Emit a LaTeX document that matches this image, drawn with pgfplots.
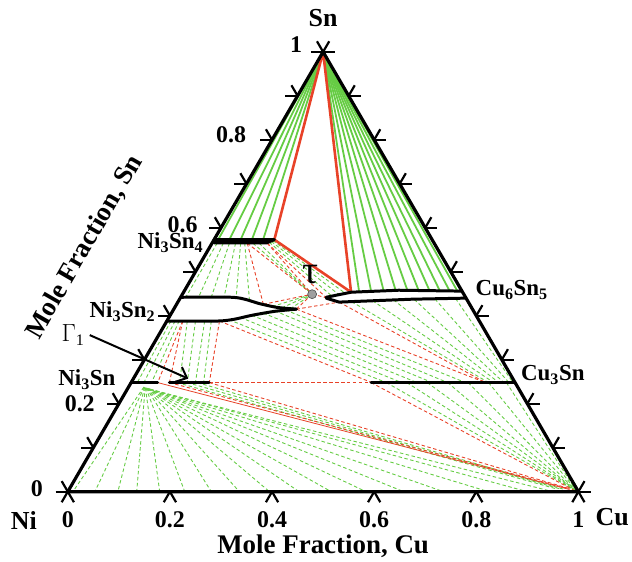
\documentclass[border=0pt]{standalone}
\usepackage{fontspec}
\setmainfont{Liberation Serif}
\usepackage{pgfplots}
\pgfplotsset{compat=1.18}
\usepackage{pgfplotstable}
\usetikzlibrary{arrows.meta}

\definecolor{tgreen}{RGB}{102,204,68}
\definecolor{tred}{RGB}{232,66,40}

% horizontal position of a composition (Cu, Sn) in the equilateral triangle
\newcommand\tx{\thisrow{cu}+0.5*\thisrow{sn}}
\newcommand\qx{\thisrow{ca}+0.5*\thisrow{sa}}

\pgfplotsset{
  tie/.style={quiver={u=\thisrow{cb}-\thisrow{ca}+0.5*(\thisrow{sb}-\thisrow{sa}),
                      v=\thisrow{sb}-\thisrow{sa}}},
  gdash/.style={tgreen, line width=0.9pt, dash pattern=on 3.5pt off 2.5pt},
  rdash/.style={tred, line width=0.9pt, dash pattern=on 3.5pt off 2.5pt},
  phase/.style={black, line width=3pt, line join=round, line cap=round},
}

% ---- tie lines: (Cu, Sn) of both ends ----
\pgfplotstableread{
ca sa cb sb
0 1 0.008 0.573
0 1 0.030 0.573
0 1 0.052 0.573
0 1 0.074 0.573
0 1 0.096 0.573
0 1 0.343 0.455
0 1 0.366 0.456
0 1 0.390 0.457
0 1 0.413 0.458
0 1 0.436 0.458
0 1 0.458 0.458
0 1 0.480 0.457
0 1 0.500 0.457
0 1 0.520 0.456
0 1 0.535 0.456
}\liqtie

\pgfplotstableread{
ca sa cb sb
0.069 0.565 0.254 0.449
0.069 0.565 0.170 0.426
0.170 0.426 0.254 0.449
0.108 0.565 0.254 0.449
0.108 0.565 0.286 0.441
0.254 0.449 0.286 0.441
0.240 0.415 0.254 0.449
0.240 0.415 0.316 0.431
0.240 0.415 0.694 0.248
0.316 0.431 0.694 0.248
0.103 0.388 0.470 0.2485
0.103 0.388 0.153 0.2485
0.153 0.2485 0.470 0.2485
0.031 0.388 0.052 0.248
0.031 0.388 0.075 0.248
0.075 0.248 0.980 0.006
0.153 0.248 0.982 0.006
0.470 0.248 0.988 0.004
}\redtie

\pgfplotstableread{
ca sa cb sb
0.010 0.565 0.010 0.442
0.022 0.565 0.035 0.442
0.034 0.565 0.060 0.442
0.046 0.565 0.085 0.442
0.056 0.565 0.110 0.439
0.064 0.565 0.140 0.432
0.080 0.565 0.254 0.449
0.092 0.565 0.254 0.449
0.111 0.567 0.296 0.444
0.114 0.569 0.307 0.448
0.116 0.571 0.318 0.451
0.190 0.421 0.254 0.449
0.210 0.418 0.254 0.449
0.228 0.416 0.254 0.449
0.008 0.388 0.012 0.248
0.016 0.388 0.025 0.248
0.024 0.388 0.040 0.248
0.040 0.388 0.095 0.248
0.056 0.388 0.110 0.248
0.074 0.388 0.126 0.248
0.087 0.388 0.142 0.248
0.120 0.391 0.500 0.248
0.140 0.396 0.530 0.248
0.160 0.401 0.560 0.248
0.180 0.406 0.590 0.248
0.200 0.411 0.620 0.248
0.220 0.413 0.655 0.248
0.340 0.432 0.700 0.248
0.380 0.434 0.710 0.248
0.420 0.436 0.720 0.248
0.460 0.437 0.730 0.248
0.500 0.438 0.740 0.248
0.540 0.439 0.748 0.248
0.090 0.248 0.955 0.006
0.110 0.248 0.962 0.006
0.130 0.248 0.970 0.005
0.500 0.248 0.990 0.004
0.540 0.248 0.990 0.004
0.580 0.248 0.991 0.004
0.620 0.248 0.992 0.003
0.660 0.248 0.993 0.003
0.700 0.248 0.994 0.003
0.735 0.248 0.995 0.002
0.030 0.238 0.010 0
0.031 0.238 0.053 0
0.032 0.237 0.098 0
0.033 0.237 0.135 0
0.034 0.236 0.180 0
0.035 0.236 0.229 0
0.036 0.236 0.281 0
0.037 0.235 0.336 0
0.038 0.235 0.395 0
0.039 0.235 0.453 0
0.040 0.234 0.516 0
0.041 0.234 0.584 0
0.042 0.234 0.658 0
0.043 0.233 0.736 0
0.044 0.233 0.824 0
0.045 0.233 0.900 0
0.046 0.232 0.950 0
}\greentie

% ---- tick marks on the three edges ----
\pgfplotstableread{
ca sa cb sb
0 0.1 -0.024 0.1
0 0.1 -0.024 0.124
0 0.2 -0.024 0.2
0 0.2 -0.024 0.224
0 0.3 -0.024 0.3
0 0.3 -0.024 0.324
0 0.4 -0.024 0.4
0 0.4 -0.024 0.424
0 0.5 -0.024 0.5
0 0.5 -0.024 0.524
0 0.6 -0.024 0.6
0 0.6 -0.024 0.624
0 0.7 -0.024 0.7
0 0.7 -0.024 0.724
0 0.8 -0.024 0.8
0 0.8 -0.024 0.824
0 0.9 -0.024 0.9
0 0.9 -0.024 0.924
0.9 0.1 0.924 0.1
0.9 0.1 0.9 0.124
0.8 0.2 0.824 0.2
0.8 0.2 0.8 0.224
0.7 0.3 0.724 0.3
0.7 0.3 0.7 0.324
0.6 0.4 0.624 0.4
0.6 0.4 0.6 0.424
0.5 0.5 0.524 0.5
0.5 0.5 0.5 0.524
0.4 0.6 0.424 0.6
0.4 0.6 0.4 0.624
0.3 0.7 0.324 0.7
0.3 0.7 0.3 0.724
0.2 0.8 0.224 0.8
0.2 0.8 0.2 0.824
0.1 0.9 0.124 0.9
0.1 0.9 0.1 0.924
0.2 0 0.2 -0.024
0.2 0 0.224 -0.024
0.4 0 0.4 -0.024
0.4 0 0.424 -0.024
0.6 0 0.6 -0.024
0.6 0 0.624 -0.024
0.8 0 0.8 -0.024
0.8 0 0.824 -0.024
-0.024 0 0.024 0
0 -0.024 0 0.024
-0.024 0.024 0.024 -0.024
-0.024 1 0.024 1
0 0.976 0 1.024
-0.024 1.024 0.024 0.976
0.976 0 1.024 0
1 -0.024 1 0.024
0.976 0.024 1.024 -0.024
}\ticktab

\begin{document}
\begin{tikzpicture}
\begin{axis}[
  width=632pt, height=563pt, scale only axis,
  xmin=-0.1328, xmax=1.1016, ymin=-0.1587, ymax=1.1179,
  hide axis, clip=false,
]
\addplot[draw=none] coordinates {(-0.1328,-0.1587) (1.1016,1.1179)};

% dashed tie lines and tie triangles
\addplot[gdash, tie] table[x expr=\qx, y=sa] {\greentie};
\addplot[rdash, tie] table[x expr=\qx, y=sa] {\redtie};
\addplot[tred, line width=0.8pt] table[x expr=\tx, y=sn, row sep=\\]
  {cu sn\\ 0.052 0.248\\ 0.980 0.005\\};

% liquid tie lines and L + Ni3Sn4 + Cu6Sn5 triangle
\addplot[tgreen, line width=1.8pt, tie] table[x expr=\qx, y=sa] {\liqtie};
\addplot[tred, line width=2.6pt, line join=round] table[x expr=\tx, y=sn, row sep=\\]
  {cu sn\\ 0 1\\ 0.118 0.573\\ 0.328 0.4535\\ 0 1\\};

% single-phase regions
\addplot[phase] table[x expr=\tx, y=sn, row sep=\\]
  {cu sn\\ 0 0.573\\ 0.118 0.573\\ 0.106 0.5655\\ 0.004 0.5655\\ 0 0.573\\};
\addplot[phase, smooth, tension=0.4] table[x expr=\tx, y=sn, row sep=\\]
  {cu sn\\ 0 0.442\\ 0.10 0.442\\ 0.13 0.437\\ 0.16 0.428\\ 0.20 0.419\\ 0.24 0.415\\};
\addplot[phase, smooth, tension=0.4] table[x expr=\tx, y=sn, row sep=\\]
  {cu sn\\ 0 0.388\\ 0.10 0.388\\ 0.13 0.392\\ 0.16 0.401\\ 0.20 0.410\\ 0.24 0.415\\};
\addplot[phase] table[x expr=\tx, y=sn, row sep=\\]
  {cu sn\\ 0.285 0.442\\ 0.328 0.4535\\ 0.419 0.458\\ 0.5435 0.456\\};
\addplot[phase] table[x expr=\tx, y=sn, row sep=\\]
  {cu sn\\ 0.286 0.440\\ 0.316 0.431\\ 0.455 0.4376\\ 0.559 0.440\\};
\addplot[phase] table[x expr=\tx, y=sn, row sep=\\]
  {cu sn\\ 0.470 0.248\\ 0.752 0.248\\};
\addplot[phase] table[x expr=\tx, y=sn, row sep=\\]
  {cu sn\\ 0 0.248\\ 0.052 0.248\\};
\addplot[phase] table[x expr=\tx, y=sn, row sep=\\]
  {cu sn\\ 0.075 0.248\\ 0.153 0.248\\};

% ternary compound tau
\addplot[only marks, mark=*, mark size=4.5pt, mark options={fill=gray!75, draw=gray!60!black, line width=0.6pt}]
  table[x expr=\tx, y=sn, row sep=\\] {cu sn\\ 0.254 0.449\\};

% triangle frame and ticks
\addplot[black, line width=3.2pt, line join=round] table[x expr=\tx, y=sn, row sep=\\]
  {cu sn\\ 0 0\\ 1 0\\ 0 1\\ 0 0\\};
\addplot[black, line width=2.2pt, tie] table[x expr=\qx, y=sa] {\ticktab};

% arrow to Gamma_1
\addplot[black, line width=2pt, -{Straight Barb[length=9pt, width=16pt, line width=2pt]}]
  coordinates {(0.043,0.356) (0.236,0.257)};

% labels
\begin{scope}[font=\fontsize{24}{26}\selectfont\bfseries]
\node at (axis cs:0.447,1.016) {1};
\node at (axis cs:0.320,0.812) {0.8};
\node at (axis cs:0.225,0.608) {0.6};
\node at (axis cs:0.0234,0.1995) {0.2};
\node at (axis cs:-0.0605,0.007) {0};
\node at (axis cs:0,-0.0635) {0};
\node at (axis cs:0.2,-0.0635) {0.2};
\node at (axis cs:0.4,-0.0635) {0.4};
\node at (axis cs:0.6,-0.0635) {0.6};
\node at (axis cs:0.8,-0.0635) {0.8};
\node at (axis cs:1,-0.0635) {1};
\end{scope}
\begin{scope}[font=\fontsize{26}{28}\selectfont\bfseries]
\node at (axis cs:0.5,1.077) {Sn};
\node at (axis cs:-0.086,-0.066) {Ni};
\node at (axis cs:1.066,-0.057) {Cu};
\end{scope}
\begin{scope}[font=\fontsize{23}{25}\selectfont\bfseries]
\node[anchor=east] at (axis cs:0.272,0.567) {Ni\textsubscript{3}Sn\textsubscript{4}};
\node[anchor=east] at (axis cs:0.178,0.410) {Ni\textsubscript{3}Sn\textsubscript{2}};
\node[anchor=east] at (axis cs:0.100,0.255) {Ni\textsubscript{3}Sn};
\node[anchor=west] at (axis cs:0.792,0.458) {Cu\textsubscript{6}Sn\textsubscript{5}};
\node[anchor=west] at (axis cs:0.881,0.266) {Cu\textsubscript{3}Sn};
\end{scope}
\node[font=\fontsize{27}{29}\selectfont\bfseries] at (axis cs:0.5,-0.125) {Mole Fraction, Cu};
\node[font=\fontsize{27}{29}\selectfont\bfseries, rotate=60] at (axis cs:0.033,0.556) {Mole Fraction, Sn};
\node[font=\fontsize{23}{25}\selectfont] at (axis cs:0.010,0.356) {$\Gamma$\textsubscript{1}};
\node[font=\fontsize{40}{42}\selectfont] at (axis cs:0.4746,0.494) {τ};
\end{axis}
\end{tikzpicture}
\end{document}
